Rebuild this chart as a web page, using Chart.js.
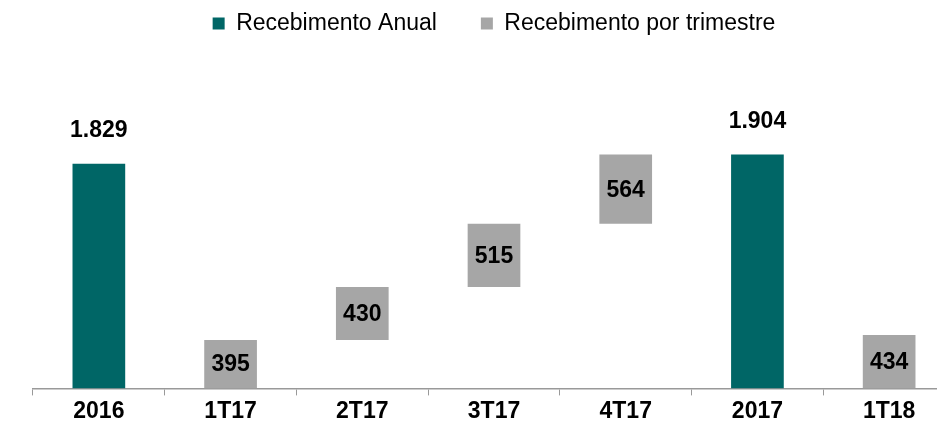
<!DOCTYPE html>
<html>
<head>
<meta charset="utf-8">
<script src="https://cdn.jsdelivr.net/npm/chart.js@4/dist/chart.umd.min.js"></script>
<style>
  html, body { margin: 0; padding: 0; background: #fff; overflow: hidden; }
  #wrap { position: relative; width: 996px; height: 427px; }
</style>
</head>
<body>
<div id="wrap"><canvas id="recChart"></canvas></div>
<script>
const categories = ['2016', '1T17', '2T17', '3T17', '4T17', '2017', '1T18'];
const annualValues = [1829, null, null, null, null, 1904, null];
const quarterValues = [null, 395, 430, 515, 564, null, 434];

const TEAL = '#006666';
const GREY = '#a6a6a6';
const FONT = '"Liberation Sans", Arial, sans-serif';

// waterfall: quarters stack up from zero, restart after each annual bar
let running = 0;
const quarterRanges = quarterValues.map((v, i) => {
    if (annualValues[i] !== null) { running = 0; return null; }
    if (v === null) return null;
    const r = [running, running + v];
    running += v;
    return r;
});

function fmt(n) {
    return String(n).replace(/\B(?=(\d{3})+(?!\d))/g, '.');
}

const labelPlugin = {
    id: 'barLabels',
    afterDatasetsDraw(chart) {
        const c = chart.ctx;
        c.save();
        c.font = 'bold 23px ' + FONT;
        c.fillStyle = '#000';
        c.textAlign = 'center';
        c.textBaseline = 'middle';
        chart.getDatasetMeta(0).data.forEach((bar, i) => {
            if (annualValues[i] === null) return;
            c.fillText(fmt(annualValues[i]), bar.x, bar.y - 33);
        });
        chart.getDatasetMeta(1).data.forEach((bar, i) => {
            if (quarterRanges[i] === null) return;
            c.fillText(fmt(quarterValues[i]), bar.x, (bar.y + bar.base) / 2 + 1);
        });
        c.restore();
    }
};

const ctx = document.getElementById('recChart').getContext('2d');

new Chart(ctx, {
    type: 'bar',
    data: {
        labels: categories,
        datasets: [
            {
                label: 'Recebimento Anual',
                data: annualValues,
                backgroundColor: TEAL
            },
            {
                label: 'Recebimento por trimestre',
                data: quarterRanges,
                backgroundColor: GREY
            }
        ]
    },
    options: {
        responsive: true,
        maintainAspectRatio: false,
        animation: false,
        datasets: {
            bar: { grouped: false, barPercentage: 0.4, categoryPercentage: 1 }
        },
        layout: { padding: { left: 33, right: 41, top: -32, bottom: 0 } },
        plugins: {
            legend: {
                position: 'top',
                labels: {
                    color: '#000',
                    font: { family: FONT, size: 23 },
                    boxWidth: 12,
                    boxHeight: 12,
                    padding: 44
                }
            },
            tooltip: { enabled: false }
        },
        scales: {
            x: {
                grid: {
                    drawOnChartArea: false,
                    drawTicks: true,
                    tickLength: 7,
                    color: '#999'
                },
                border: { color: '#999', width: 1.5 },
                ticks: {
                    color: '#000',
                    padding: 2,
                    font: { family: FONT, size: 23, weight: 'bold' }
                }
            },
            y: {
                display: false,
                min: 0,
                max: 2796
            }
        }
    },
    plugins: [labelPlugin]
});
</script>
</body>
</html>
